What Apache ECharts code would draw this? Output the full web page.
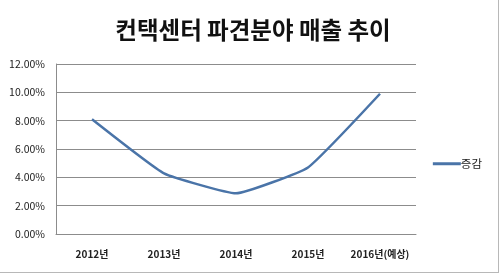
<!DOCTYPE html>
<html><head><meta charset="utf-8">
<script src="https://cdn.jsdelivr.net/npm/echarts@6/dist/echarts.min.js"></script>
<style>html,body{margin:0;padding:0;background:#fff}#c{width:500px;height:274px}</style>
</head><body><div id="c"></div>
<script>
const categories = ['2012년', '2013년', '2014년', '2015년', '2016년(예상)'];
const seriesName = '증감';
const values = [8.1, 4.28, 2.87, 4.7, 9.9];
const yTicks = [0, 2, 4, 6, 8, 10, 12];

const chart = echarts.init(document.getElementById('c'), null, {renderer: 'canvas'});
const font = '"Noto Sans CJK KR", "Noto Sans", sans-serif';
chart.setOption({
  backgroundColor: '#fff',
  animation: false,
  title: {
    text: '컨택센터 파견분야 매출 추이',
    left: 248, top: 13, textAlign: 'center',
    textStyle: {fontFamily: font, fontSize: 23.5, fontWeight: 'bold', color: '#111'}
  },
  grid: {left: 56, right: 84, top: 64, bottom: 40, containLabel: false},
  legend: {
    data: [seriesName], right: 13, top: 153, orient: 'vertical',
    icon: 'rect', itemWidth: 28, itemHeight: 3, itemGap: 4,
    textStyle: {fontFamily: font, fontSize: 11.5, color: '#222', padding: [0,0,0,-5]}
  },
  xAxis: {
    type: 'category', data: categories, boundaryGap: true,
    axisLine: {lineStyle: {color: '#8c8c8c', width: 1}},
    axisTick: {show: false},
    axisLabel: {interval: 0, fontFamily: font, fontSize: 10, fontWeight: 'bold', color: '#222', margin: 15}
  },
  yAxis: {
    type: 'value', min: yTicks[0], max: yTicks[yTicks.length-1], interval: 2,
    axisLine: {show: true, lineStyle: {color: '#8c8c8c', width: 1}},
    axisTick: {show: false},
    splitLine: {lineStyle: {color: '#8c8c8c', width: 1}},
    axisLabel: {fontFamily: font, fontSize: 10.5, color: '#222', margin: 11,
      formatter: v => v.toFixed(2) + '%'}
  },
  series: [{
    name: seriesName, type: 'line', data: values, smooth: 0.12,
    symbol: 'none',
    lineStyle: {color: '#4a74a8', width: 2.5},
    itemStyle: {color: '#4a74a8'}
  }],
  graphic: [
    {type: 'line', shape: {x1: 498.5, y1: 0, x2: 498.5, y2: 272.5}, style: {stroke: '#b8b8b8', lineWidth: 1}},
    {type: 'line', shape: {x1: 0, y1: 272.5, x2: 499, y2: 272.5}, style: {stroke: '#b8b8b8', lineWidth: 1}}
  ]
});
</script></body></html>
